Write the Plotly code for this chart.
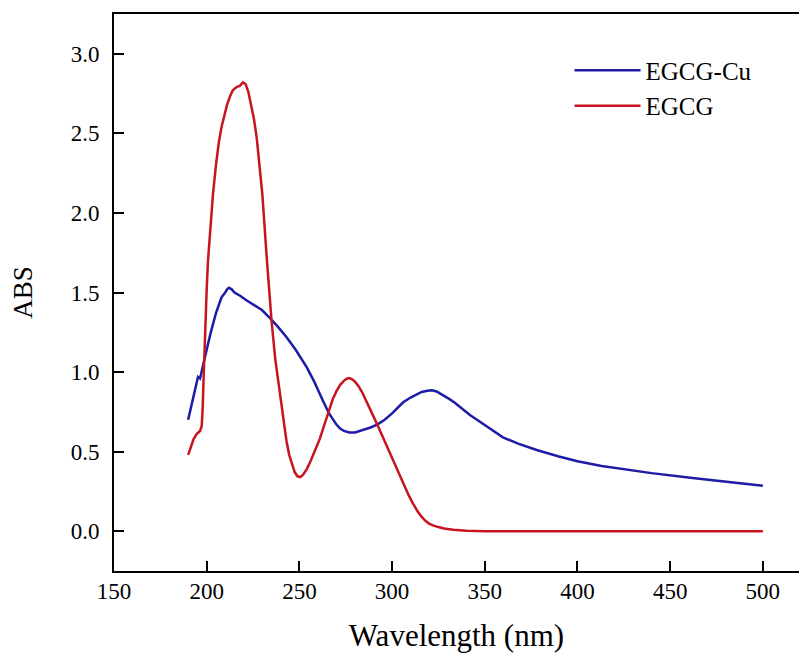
import plotly.graph_objects as go

# EGCG-Cu (blue)
cu_wl = [190, 192, 193.7, 195.3, 196.4, 198, 200, 202, 203.4, 205, 206.5, 208, 210, 211, 212, 213.5,
         215, 218, 221.6, 226, 229.8, 234, 238, 243, 248, 254, 258, 262.7, 266, 270, 272, 274, 277,
         280, 284, 288, 292, 296, 300, 303, 306, 310, 313, 316, 319, 321.5, 324, 326, 328.5, 331,
         334, 338, 342, 345.8, 352, 359.8, 368, 378, 390, 400, 413, 426.7, 440, 462, 480, 500]
cu_abs = [0.70, 0.80, 0.90, 0.97, 0.96, 1.05, 1.14, 1.24, 1.31, 1.37, 1.42, 1.47, 1.50, 1.52, 1.53, 1.52,
          1.50, 1.48, 1.45, 1.42, 1.39, 1.34, 1.29, 1.22, 1.14, 1.03, 0.94, 0.82, 0.74, 0.67, 0.645, 0.63, 0.62,
          0.62, 0.635, 0.65, 0.67, 0.70, 0.74, 0.775, 0.81, 0.84, 0.86, 0.875, 0.883, 0.885, 0.878, 0.865, 0.85, 0.83,
          0.805, 0.765, 0.73, 0.70, 0.65, 0.59, 0.55, 0.51, 0.47, 0.44, 0.41, 0.385, 0.365, 0.335, 0.31, 0.285]

# EGCG (red)
egcg_wl = [190, 191.5, 193, 194.6, 196.4, 197.3, 197.8, 198.3, 199, 200, 200.7, 202, 203.4, 205, 206.5,
           208, 209.5, 211, 212.5, 214, 216, 218, 219.5, 221, 222.5, 224, 225.5, 227, 228.5, 230, 232.5,
           235, 237, 239.5, 241, 243, 244.5, 246, 247.5, 249, 250.5, 252, 254, 256, 258.5, 261, 263.5,
           266, 268, 270, 272, 274, 275.5, 277, 278.5, 280, 282, 284, 287, 290, 292, 295, 299, 303, 306,
           309, 311, 314, 316, 318, 320, 322, 325, 328, 333, 340, 350, 400, 450, 500]
egcg_abs = [0.48, 0.53, 0.58, 0.61, 0.63, 0.66, 0.76, 0.95, 1.22, 1.52, 1.70, 1.93, 2.12, 2.30, 2.44,
            2.54, 2.62, 2.68, 2.73, 2.77, 2.79, 2.80, 2.82, 2.81, 2.76, 2.68, 2.59, 2.47, 2.31, 2.12, 1.70,
            1.32, 1.08, 0.87, 0.71, 0.57, 0.48, 0.42, 0.37, 0.345, 0.34, 0.355, 0.39, 0.44, 0.51, 0.58, 0.67,
            0.76, 0.83, 0.88, 0.92, 0.945, 0.958, 0.962, 0.955, 0.94, 0.91, 0.87, 0.80, 0.72, 0.67, 0.59, 0.49, 0.38, 0.30,
            0.225, 0.18, 0.12, 0.09, 0.065, 0.048, 0.037, 0.026, 0.017, 0.009, 0.003, 0.0, 0.0, 0.0, 0.0]

x_ticks = [150, 200, 250, 300, 350, 400, 450, 500]
y_ticks = [0.0, 0.5, 1.0, 1.5, 2.0, 2.5, 3.0]
y_tick_text = ["0.0", "0.5", "1.0", "1.5", "2.0", "2.5", "3.0"]

FONT = "Liberation Serif"

fig = go.Figure()
fig.add_trace(go.Scatter(x=cu_wl, y=cu_abs, mode="lines", name="EGCG-Cu",
                         line=dict(color="#1c1ca6", width=2.5)))
fig.add_trace(go.Scatter(x=egcg_wl, y=egcg_abs, mode="lines", name="EGCG",
                         line=dict(color="#c8141e", width=2.5)))

fig.update_layout(
    width=799, height=654,
    margin=dict(l=114, r=0, t=14, b=83),
    paper_bgcolor="white", plot_bgcolor="white",
    font=dict(family=FONT, color="black", size=23),
    showlegend=True,
    legend=dict(x=0.665, y=0.94, xanchor="left", yanchor="top", itemwidth=66,
                font=dict(family=FONT, size=25, color="black"),
                bgcolor="rgba(0,0,0,0)", tracegroupgap=0),
    xaxis=dict(range=[150, 519.5], tickvals=x_ticks, ticks="inside", ticklen=10, tickwidth=2,
               tickcolor="black", showline=True, linewidth=2, linecolor="black", mirror=True,
               showgrid=False, zeroline=False, ticklabelstandoff=-2,
               tickfont=dict(family=FONT, size=23, color="black"),
               title=dict(text="Wavelength (nm)", font=dict(family=FONT, size=31, color="black"),
                          standoff=22)),
    yaxis=dict(range=[-0.25, 3.25], tickvals=y_ticks, ticktext=y_tick_text, ticks="inside",
               ticklen=10, tickwidth=2, tickcolor="black", showline=True, linewidth=2,
               linecolor="black", mirror=False, showgrid=False, zeroline=False,
               ticklabelstandoff=8,
               tickfont=dict(family=FONT, size=23, color="black"),
               title=dict(text="ABS", font=dict(family=FONT, size=27, color="black"),
                          standoff=30)),
)

fig.write_html("out.html")
